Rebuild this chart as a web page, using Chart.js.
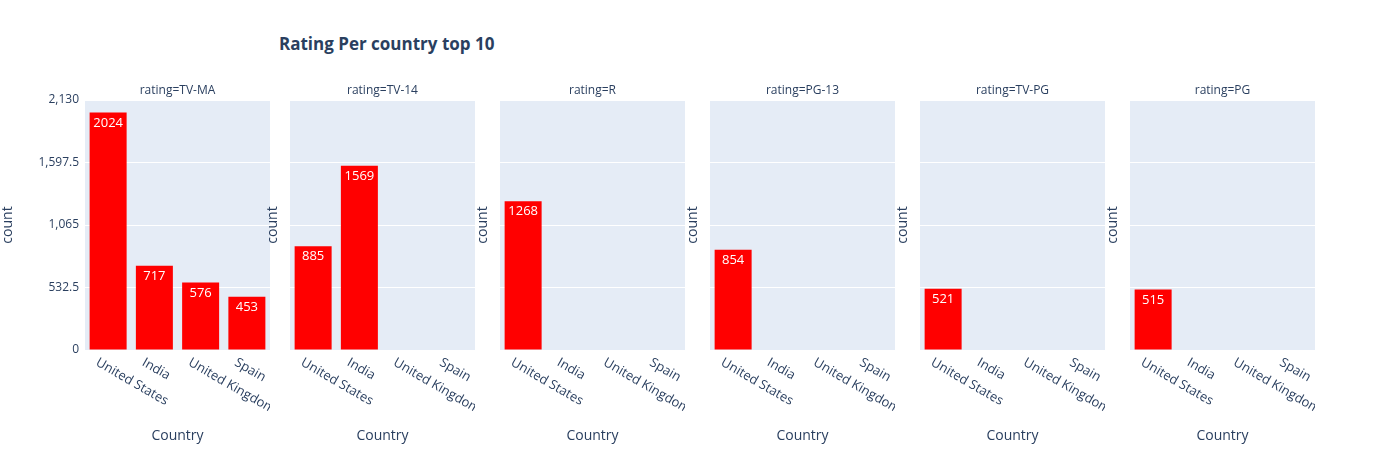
<!DOCTYPE html>
<html>
<head>
<meta charset="utf-8">
<script src="https://cdn.jsdelivr.net/npm/chart.js@4"></script>
<style>
  body { margin: 0; background: #fff; font-family: 'Open Sans', sans-serif; }
  #wrap { position: relative; width: 1394px; height: 450px; }
  canvas { position: absolute; top: 0; }
  #title { position: absolute; left: 279px; top: 32px; font-size: 17px; font-weight: bold; color: #2a3f5f; }
</style>
</head>
<body>
<div id="wrap">
  <div id="title">Rating Per country top 10</div>
</div>
<script>
// Data
const countries = ['United States', 'India', 'United Kingdom', 'Spain'];
const ratings = ['TV-MA', 'TV-14', 'R', 'PG-13', 'TV-PG', 'PG'];
const tvMa = [2024, 717, 576, 453];
const tv14 = [885, 1569, null, null];
const rRated = [1268, null, null, null];
const pg13 = [854, null, null, null];
const tvPg = [521, null, null, null];
const pg = [515, null, null, null];
const seriesValues = [tvMa, tv14, rRated, pg13, tvPg, pg];

const plotLefts = [85, 290, 500, 710, 920, 1130];
const plotWidth = 185;
const textColor = '#2a3f5f';

// Background + labels plugin
const decor = {
    id: 'decor',
    beforeDraw(chart) {
        const { ctx, chartArea: a } = chart;
        ctx.save();
        ctx.fillStyle = '#e5ecf6';
        ctx.fillRect(a.left, a.top, a.right - a.left, a.bottom - a.top);
        ctx.restore();
    },
    afterDraw(chart, args, opts) {
        const { ctx, chartArea: a } = chart;
        const xs = chart.scales.x;
        ctx.save();
        // subplot title
        ctx.fillStyle = textColor;
        ctx.font = '12px "Open Sans"';
        ctx.textAlign = 'center';
        ctx.textBaseline = 'middle';
        ctx.fillText(opts.subtitle, (a.left + a.right) / 2, 91);
        // rotated tick labels
        ctx.font = '13px "Open Sans"';
        ctx.textAlign = 'left';
        ctx.textBaseline = 'top';
        countries.forEach((c, i) => {
            const x = xs.getPixelForValue(i);
            ctx.save();
            ctx.translate(x - 8, a.bottom + 6);
            ctx.rotate(30 * Math.PI / 180);
            ctx.fillText(c, 0, 0);
            ctx.restore();
        });
        // bar value labels
        const meta = chart.getDatasetMeta(0);
        ctx.fillStyle = '#fff';
        ctx.textAlign = 'center';
        ctx.font = '13px "Open Sans"';
        meta.data.forEach((bar, i) => {
            const v = chart.data.datasets[0].data[i];
            if (v == null) return;
            ctx.fillText(String(v), bar.x, bar.y + 4);
        });
        ctx.restore();
    }
};

ratings.forEach((rating, idx) => {
    const yWidth = idx === 0 ? 85 : 25;
    const canvas = document.createElement('canvas');
    const w = yWidth + plotWidth;
    canvas.width = w;
    canvas.height = 450;
    canvas.style.width = w + 'px';
    canvas.style.height = '450px';
    canvas.style.left = (plotLefts[idx] - yWidth) + 'px';
    document.getElementById('wrap').appendChild(canvas);

    new Chart(canvas, {
        type: 'bar',
        data: {
            labels: countries,
            datasets: [{
                data: seriesValues[idx],
                backgroundColor: '#ff0000',
                barPercentage: 0.8,
                categoryPercentage: 1.0
            }]
        },
        options: {
            responsive: false,
            animation: false,
            layout: { padding: { top: 100, right: 0, bottom: 0, left: 0 } },
            plugins: {
                legend: { display: false },
                tooltip: { enabled: false },
                decor: { subtitle: 'rating=' + rating }
            },
            scales: {
                x: {
                    grid: { display: false },
                    border: { display: false },
                    ticks: { display: false },
                    title: { display: true, text: 'Country', color: textColor, font: { size: 14, family: 'Open Sans' }, padding: { top: 0, bottom: 6 } },
                    afterFit(scale) { scale.height = 100; }
                },
                y: {
                    min: 0,
                    max: 2130,
                    grid: { color: '#ffffff', lineWidth: 1, drawTicks: false },
                    border: { display: false },
                    ticks: { display: idx === 0, stepSize: 500, color: textColor, font: { size: 12, family: 'Open Sans' }, padding: 6 },
                    title: { display: true, text: 'count', color: textColor, font: { size: 14, family: 'Open Sans' }, padding: 0 },
                    afterFit(scale) { scale.width = yWidth; }
                }
            }
        },
        plugins: [decor]
    });
});
</script>
</body>
</html>
